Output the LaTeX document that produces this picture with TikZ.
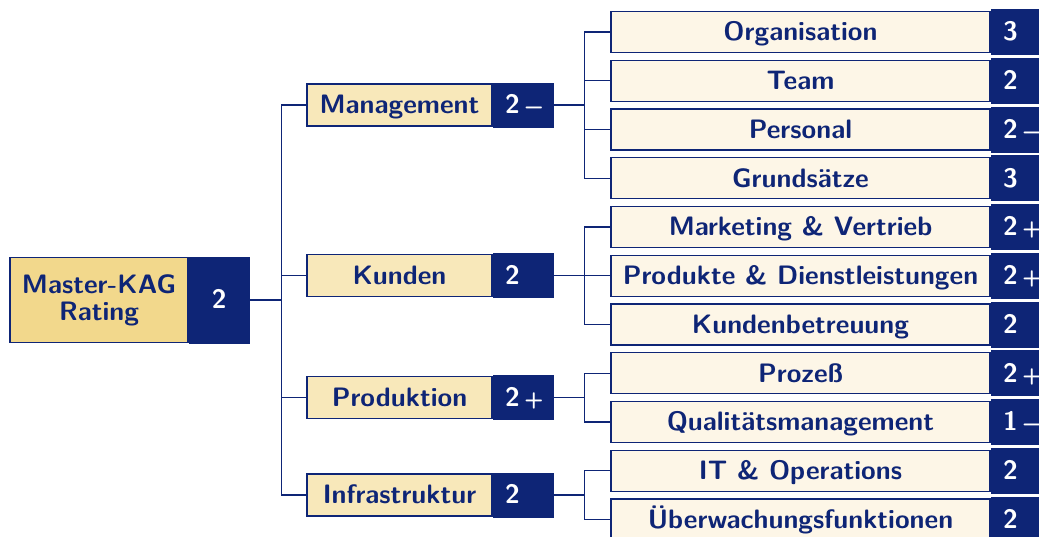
\documentclass[tikz,border=0pt]{standalone}
\usepackage{tikz}
\usetikzlibrary{positioning}
\definecolor{kagblue}{RGB}{14,37,118}
\definecolor{kaggold}{RGB}{242,216,140}
\definecolor{kagsand}{RGB}{248,232,186}
\definecolor{kagcream}{RGB}{253,246,231}
\def\pxu{0.45pt}
\newcommand{\gplus}{\,{\normalsize+}}
\newcommand{\gminus}{\,{\normalsize\textminus}}
\tikzset{box/.style={draw=kagblue,line width=1.4*\pxu,text=kagblue,inner sep=0pt},
root/.style={box,fill=kaggold,align=center,minimum width=178*\pxu,minimum height=85*\pxu},
branch/.style={box,fill=kagsand,minimum width=185*\pxu,minimum height=42*\pxu,text height=1.85ex,text depth=0pt},
leaf/.style={box,fill=kagcream,minimum width=379*\pxu,minimum height=41*\pxu,text height=1.85ex,text depth=0pt},
grade/.style={draw=kagblue,fill=kagblue,text=white,inner xsep=12*\pxu,inner ysep=0pt,text width=36*\pxu,minimum height=#1*\pxu,text height=1.85ex,text depth=0pt},grade/.default=45}

\begin{document}
\begin{tikzpicture}[x=\pxu,y=-\pxu,every node/.style={font=\large\sffamily\bfseries},
link/.style={draw=kagblue,line width=1.4*\pxu},fork/.style={to path={-- ++(#1,0) |- (\tikztotarget)}}]
\useasboundingbox (0,0) rectangle (1039,536);

\node[root] (root) at (99,300) {Master-KAG\\[-2pt]Rating};
\node[grade=86,align=center,right=0pt of root] (root-g) {2};

\node[branch] (mgmt) at (399.5,105.1) {Management};
\node[grade=44,align=left,right=0pt of mgmt] (mgmt-g) {2\gminus};
\node[branch] (kund) at (399.5,275.75) {Kunden};
\node[grade=44,align=left,right=0pt of kund] (kund-g) {2};
\node[branch] (prodn) at (399.5,397.6) {Produktion};
\node[grade=44,align=left,right=0pt of prodn] (prodn-g) {2\gplus};
\node[branch] (infra) at (399.5,495.1) {Infrastruktur};
\node[grade=44,align=left,right=0pt of infra] (infra-g) {2};

\foreach \n/\t/\g [count=\i from 0] in {org/Organisation/{3},team/Team/{2},pers/Personal/{2\gminus},grund/Grundsätze/{3},
  mkt/Marketing \& Vertrieb/{2\gplus},prod/Produkte \& Dienstleistungen/{2\gplus},betr/Kundenbetreuung/{2},
  proz/Prozeß/{2\gplus},qual/Qualitätsmanagement/{1\gminus},it/IT \& Operations/{2},ueb/Überwachungsfunktionen/{2}}
{
  \node[leaf] (\n) at (800.5,{32+48.75*\i}) {\t};
  \node[grade,align=left,right=0pt of \n] (\n-g) {\g};
}

\foreach \b in {mgmt,kund,prodn,infra}
  \draw[link] (root-g.east) to[fork=32] (\b.west);
\foreach \p/\c in {mgmt/org,mgmt/team,mgmt/pers,mgmt/grund,kund/mkt,kund/prod,kund/betr,prodn/proz,prodn/qual,infra/it,infra/ueb}
  \draw[link] (\p-g.east) to[fork=31] (\c.west);
\end{tikzpicture}
\end{document}
